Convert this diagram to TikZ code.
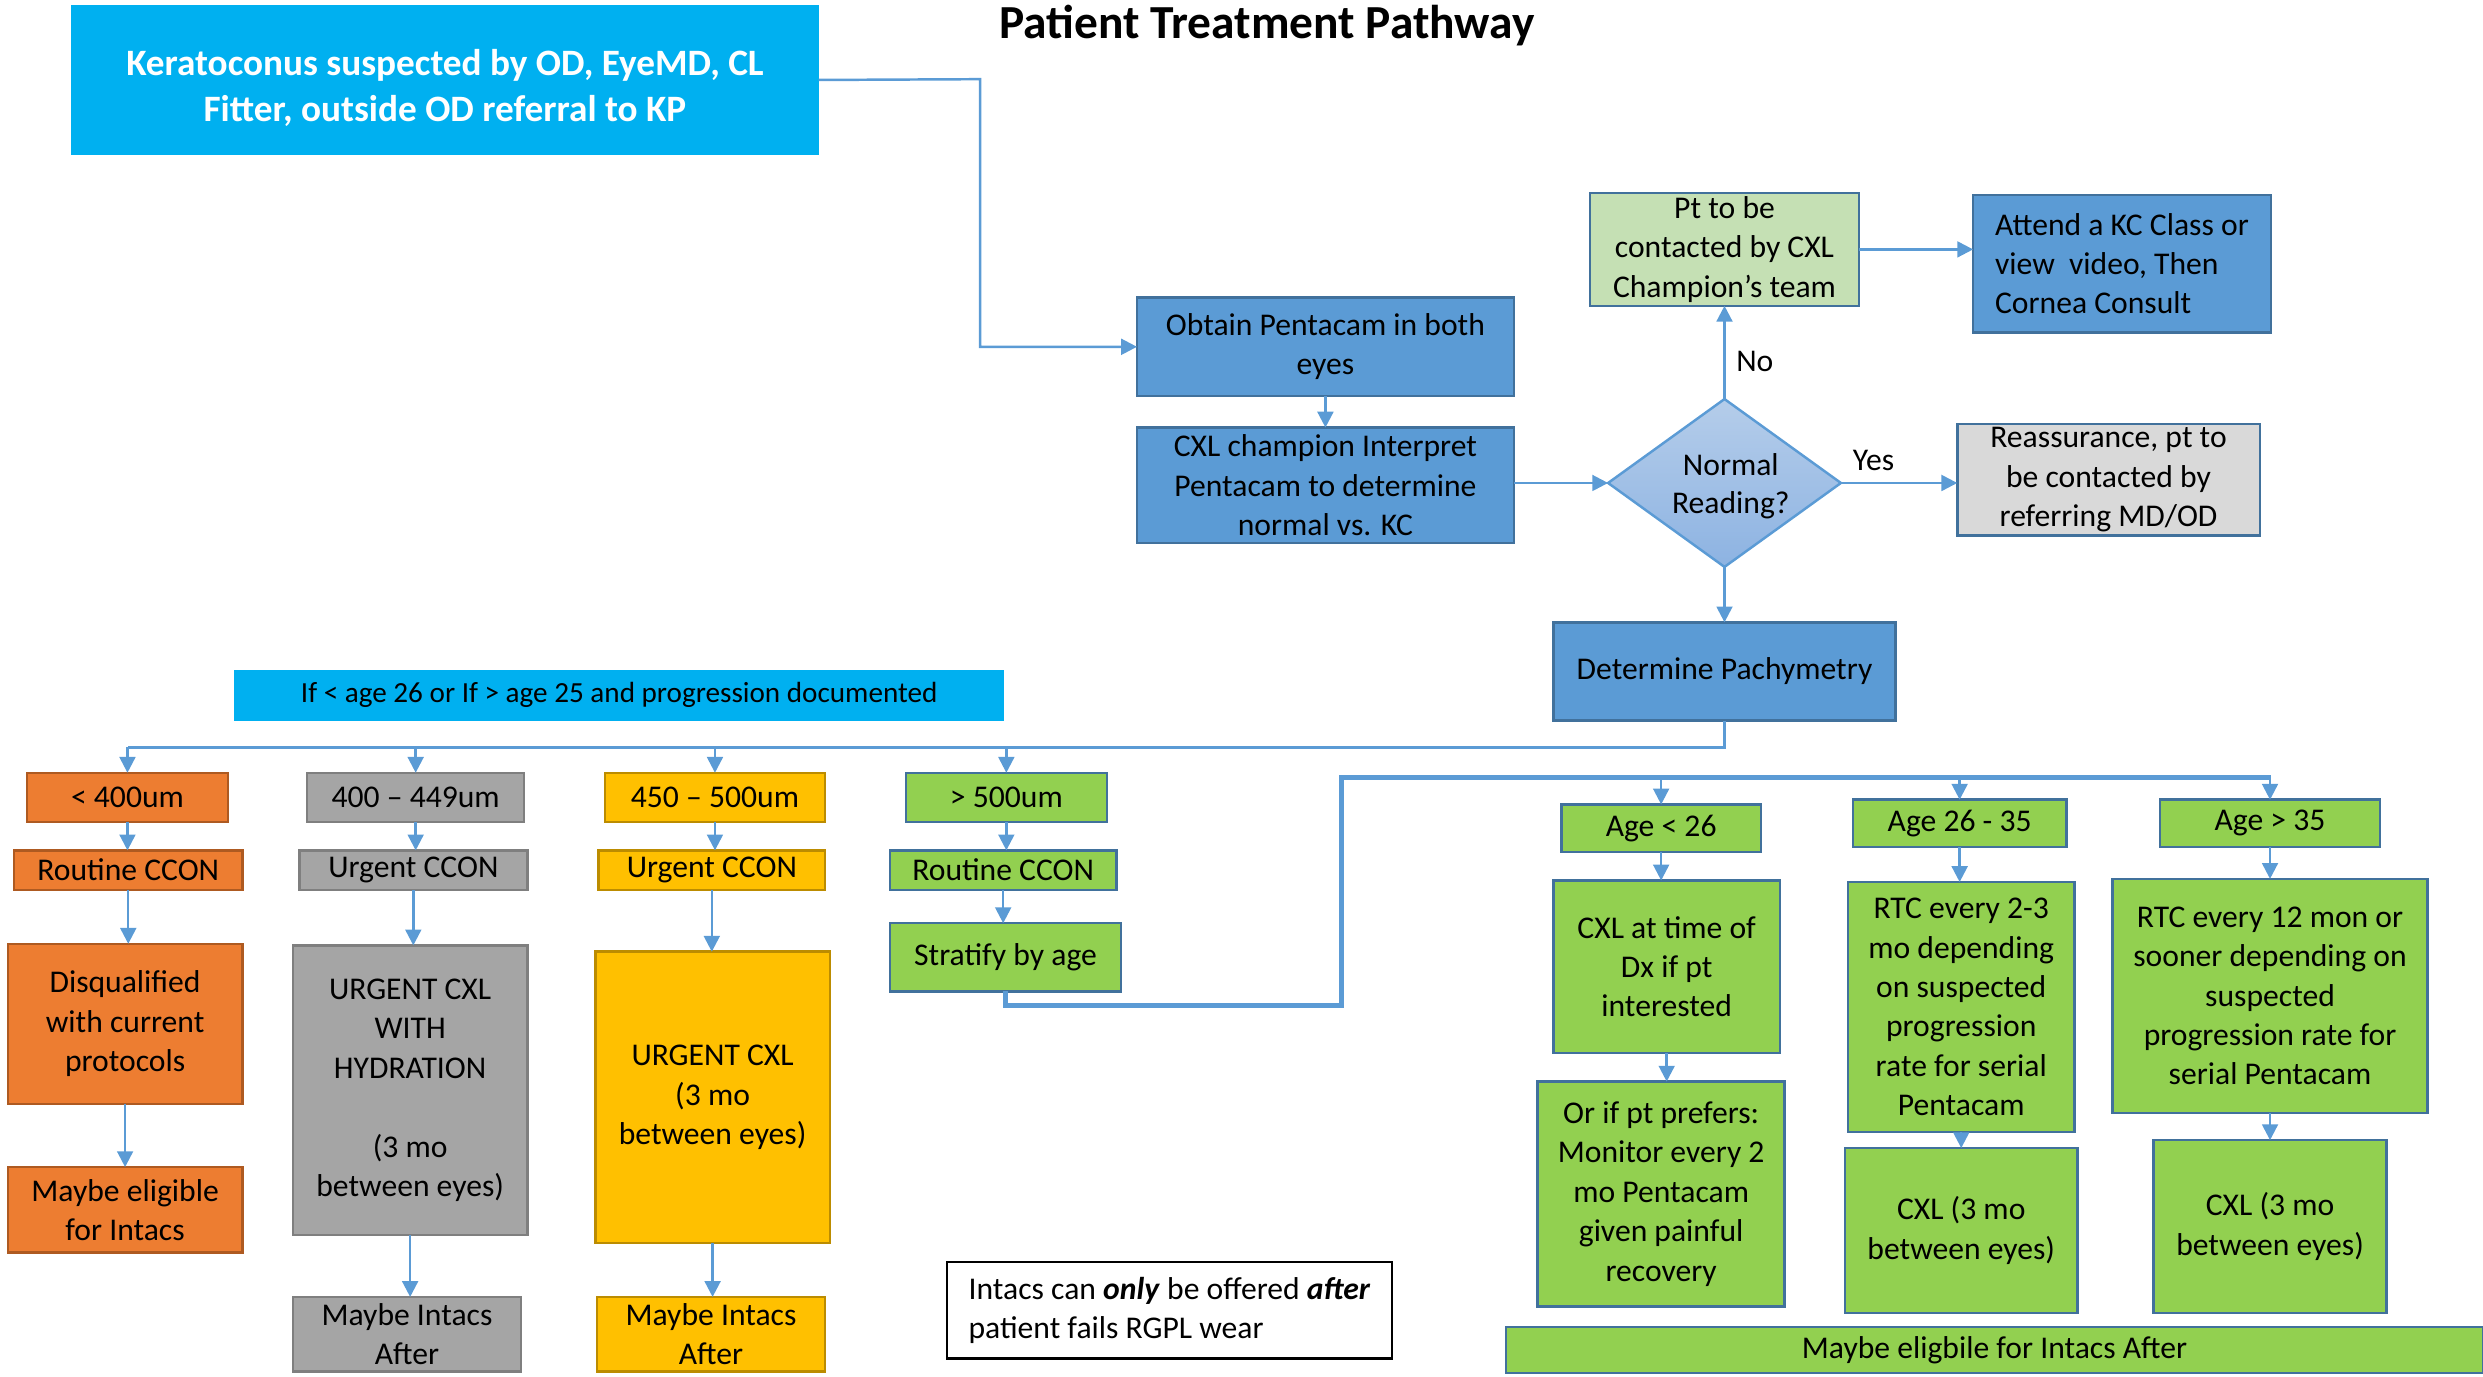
\documentclass[tikz,border=0pt]{standalone}
\usepackage{fontspec}
\setmainfont{Carlito}
\usetikzlibrary{arrows.meta,shapes.geometric}
\definecolor{cyanb}{HTML}{00B0F0}
\definecolor{bluef}{HTML}{5B9BD5}
\definecolor{blued}{HTML}{41719C}
\definecolor{orangef}{HTML}{ED7D31}
\definecolor{oranged}{HTML}{AE5A21}
\definecolor{grayf}{HTML}{A5A5A5}
\definecolor{grayd}{HTML}{7F7F7F}
\definecolor{goldf}{HTML}{FFC000}
\definecolor{goldd}{HTML}{BC8C00}
\definecolor{greenf}{HTML}{92D050}
\definecolor{ltgreenf}{HTML}{C5E0B4}
\definecolor{ltgrayf}{HTML}{D9D9D9}
\definecolor{linec}{HTML}{5B9BD5}
\definecolor{diatop}{HTML}{B5CDEA}
\definecolor{diabot}{HTML}{8DB3E2}
\newcommand\bx[7]{\node[#6, minimum width={(#4-#2)*0.015835cm}, minimum height={(#5-#3)*0.015835cm}] (#1) at ({(#2+#4)/2},{(#3+#5)/2}) {#7};}
\begin{document}
\begin{tikzpicture}[x=0.015835cm,y=-0.015835cm,
  base/.style={draw, line width=0.7pt, align=center, inner sep=1pt, outer sep=0pt, font=\fontsize{9}{11.2}\selectfont, text=black},
  bluebox/.style={base, fill=bluef, draw=blued},
  orangebox/.style={base, fill=orangef, draw=oranged},
  graybox/.style={base, fill=grayf, draw=grayd},
  goldbox/.style={base, fill=goldf, draw=goldd},
  greenbox/.style={base, fill=greenf, draw=blued},
  ltgreenbox/.style={base, fill=ltgreenf, draw=blued},
  ltgraybox/.style={base, fill=ltgrayf, draw=blued},
  cyanbox/.style={base, fill=cyanb, draw=none},
  notebox/.style={base, fill=white, draw=black},
  ln/.style={draw=linec, line width=0.7pt},
  arr/.style={ln, -{Triangle[length=4.5pt,width=4.5pt]}},
  busline/.style={draw=linec, line width=1.3pt},
  lbl/.style={font=\fontsize{9}{11}\selectfont, inner sep=0pt}
]
\useasboundingbox (0,0) rectangle (1568,869);

% title
\node[font=\fontsize{13.5}{16}\selectfont\bfseries, inner sep=0pt] (title) at (800,16) {Patient Treatment Pathway};

% top flow
\bx{kc}{45}{3}{517}{98}{cyanbox, text=white, font=\fontsize{10.6}{13}\selectfont\bfseries}{\rule{0pt}{12pt}Keratoconus suspected by OD, EyeMD, CL\\Fitter, outside OD referral to KP}
\bx{obtain}{718}{188}{956}{250}{bluebox}{Obtain Pentacam in both\\eyes}
\bx{interp}{718}{270}{956}{343}{bluebox}{CXL champion Interpret\\Pentacam to determine\\normal vs. KC}
\node[diamond, draw=linec, line width=0.7pt, top color=diatop, bottom color=diabot, inner sep=0pt, outer sep=0pt,
  minimum width={147*0.015835cm}, minimum height={106*0.015835cm}] (normal) at (1089,305) {};
\node[lbl, align=center, font=\fontsize{9}{10.6}\selectfont] (normaltxt) at (1093,307) {Normal\\Reading?};
\bx{ptcont}{1004}{123}{1174}{192}{ltgreenbox}{Pt to be\\contacted by CXL\\Champion’s team}
\bx{attend}{1246}{123}{1434}{210}{bluebox, align=left}{Attend a KC Class or\\view~ video, Then\\Cornea Consult}
\bx{reass}{1236}{268}{1427}{338}{ltgraybox}{Reassurance, pt to\\be contacted by\\referring MD/OD}
\bx{pach}{981}{393}{1197}{455}{bluebox}{Determine Pachymetry}

\coordinate (kcturn) at (619,50);
\draw[arr] (kc.east) -- (kcturn) |- (obtain.west);
\draw[arr] (obtain.south) -- (interp.north);
\draw[arr] (interp.east |- normal.west) -- (normal.west);
\draw[arr] (normal.north) -- (ptcont.south) node[lbl, pos=0.4, right=3pt] (no) {No};
\draw[arr] (ptcont.east) -- (ptcont.east -| attend.west);
\draw[arr] (normal.east) -- (reass.west |- normal.east) node[lbl, pos=0.28, above=3pt] (yes) {Yes};
\draw[arr] (normal.south) -- (pach.north);

% banner
\bx{banner}{148}{423}{634}{455}{cyanbox, font=\fontsize{8.3}{10}\selectfont}{If < age 26 or If > age 25 and progression documented}

% pachymetry columns
\bx{ca}{17}{488}{144}{519}{orangebox}{< 400um}
\bx{cb}{9}{537}{153}{562}{orangebox}{Routine CCON}
\bx{cc}{5}{596}{153}{697}{orangebox}{Disqualified\\with current\\protocols}
\bx{cd}{5}{737}{153}{791}{orangebox}{Maybe eligible\\for Intacs}

\bx{da}{194}{488}{331}{519}{graybox}{400 – 449um}
\bx{db}{189}{537}{333}{562}{graybox}{Urgent CCON}
\bx{dc}{185}{597}{333}{780}{graybox}{URGENT CXL\\WITH\\HYDRATION\\~\\(3 mo\\between eyes)}
\bx{dd}{185}{819}{329}{866}{graybox}{Maybe Intacs\\After}

\bx{ea}{382}{488}{521}{519}{goldbox}{450 – 500um}
\bx{eb}{378}{537}{521}{562}{goldbox}{Urgent CCON}
\bx{ec}{376}{601}{524}{785}{goldbox}{URGENT CXL\\(3 mo\\between eyes)}
\bx{ed}{377}{819}{521}{866}{goldbox}{Maybe Intacs\\After}

\bx{fa}{572}{488}{699}{519}{greenbox}{> 500um}
\bx{fb}{562}{537}{705}{562}{greenbox}{Routine CCON}
\bx{fc}{562}{583}{708}{626}{greenbox}{Stratify by age}

\coordinate (busL) at (81,472);
\draw[ln] (pach.south) |- (busL);
\draw[arr] (ca.north |- busL) -- (ca.north);
\draw[arr] (da.north |- busL) -- (da.north);
\draw[arr] (ea.north |- busL) -- (ea.north);
\draw[arr] (fa.north |- busL) -- (fa.north);
\foreach \a/\b in {ca/cb,cb/cc,cc/cd,da/db,db/dc,dc/dd,ea/eb,eb/ec,ec/ed,fa/fb,fb/fc}
  \draw[arr] (\a.south) -- (\a.south |- \b.north);

% age columns
\bx{ga}{986}{508}{1112}{538}{greenbox}{Age < 26}
\bx{gb}{981}{556}{1124}{665}{greenbox}{CXL at time of\\Dx if pt\\interested}
\bx{gc}{971}{683}{1127}{825}{greenbox}{Or if pt prefers:\\Monitor every 2\\mo Pentacam\\given painful\\recovery}
\bx{ha}{1170}{505}{1305}{535}{greenbox}{Age 26 - 35}
\bx{hb}{1167}{557}{1310}{715}{greenbox}{RTC every 2-3\\mo depending\\on suspected\\progression\\rate for serial\\Pentacam}
\bx{hc}{1165}{725}{1312}{829}{greenbox}{CXL (3 mo\\between eyes)}
\bx{ia}{1364}{505}{1503}{535}{greenbox}{Age > 35}
\bx{ib}{1334}{555}{1533}{703}{greenbox}{RTC every 12 mon or\\sooner depending on\\suspected\\progression rate for\\serial Pentacam}
\bx{ic}{1360}{720}{1507}{829}{greenbox}{CXL (3 mo\\between eyes)}
\bx{bar}{951}{838}{1568}{867}{greenbox}{Maybe eligbile for Intacs After}

\coordinate (kink) at (847,635);
\coordinate (agebus) at (1434,491);
\draw[busline] (fc.south) |- (kink) |- (agebus);
\draw[arr] (ga.north |- agebus) -- (ga.north);
\draw[arr] (ha.north |- agebus) -- (ha.north);
\draw[arr] (ia.north |- agebus) -- (ia.north);
\foreach \a/\b in {ga/gb,gb/gc,ha/hb,hb/hc,ia/ib,ib/ic}
  \draw[arr] (\a.south) -- (\a.south |- \b.north);

% note
\bx{note}{598}{797}{879}{858}{notebox, align=left}{Intacs can \textbf{\itshape only} be offered \textbf{\itshape after}\\patient fails RGPL wear}
\end{tikzpicture}
\end{document}
